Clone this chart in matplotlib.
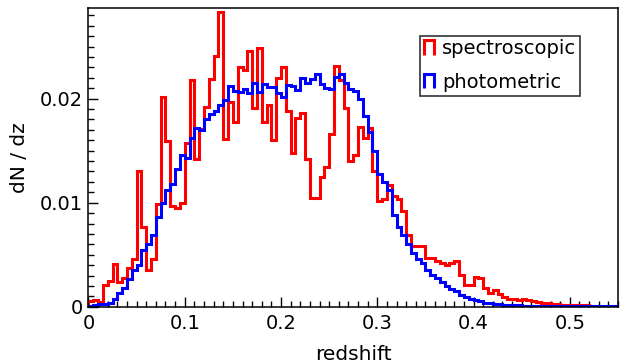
import numpy as np
import matplotlib
matplotlib.use("Agg")
import matplotlib.pyplot as plt
import matplotlib.patches as mpatches
from matplotlib.legend_handler import HandlerPatch
from matplotlib.ticker import MultipleLocator, FuncFormatter

# redshift bins: 0 .. 0.55 in steps of 0.005
BIN_WIDTH = 0.005
N_BINS = 110

spec = [
    0.0006, 0.0007, 0.0005, 0.0021, 0.0025, 0.0041, 0.0024, 0.0028, 0.0037, 0.0046,
    0.0130, 0.0077, 0.0035, 0.0046, 0.0099, 0.0202, 0.0159, 0.0097, 0.0095, 0.0100,
    0.0157, 0.0218, 0.0142, 0.0171, 0.0192, 0.0219, 0.0241, 0.0283, 0.0161, 0.0197,
    0.0178, 0.0230, 0.0227, 0.0246, 0.0191, 0.0249, 0.0178, 0.0194, 0.0160, 0.0220,
    0.0230, 0.0188, 0.0148, 0.0181, 0.0186, 0.0142, 0.0105, 0.0105, 0.0125, 0.0134,
    0.0166, 0.0231, 0.0218, 0.0191, 0.0140, 0.0146, 0.0173, 0.0162, 0.0172, 0.0130,
    0.0102, 0.0104, 0.0117, 0.0106, 0.0104, 0.0092, 0.0069, 0.0058, 0.0058, 0.0058,
    0.0047, 0.0047, 0.0044, 0.0042, 0.0040, 0.0042, 0.0044, 0.0031, 0.0021, 0.0021,
    0.0029, 0.0028, 0.0018, 0.0013, 0.0016, 0.0012, 0.0009, 0.0008, 0.0008, 0.0007,
    0.0008, 0.0007, 0.0006, 0.0005, 0.0004, 0.0004, 0.0003, 0.0003, 0.0002, 0.0002,
    0.0002, 0.0002, 0.0002, 0.0002, 0.0001, 0.0001, 0.0001, 0.0001, 0.0001, 0.0001,
]

phot = [
    0.0001, 0.0002, 0.0003, 0.0003, 0.0004, 0.0008, 0.0013, 0.0018, 0.0027, 0.0035,
    0.0040, 0.0055, 0.0060, 0.0069, 0.0086, 0.0100, 0.0112, 0.0118, 0.0132, 0.0146,
    0.0143, 0.0162, 0.0172, 0.0170, 0.0180, 0.0185, 0.0188, 0.0194, 0.0199, 0.0212,
    0.0207, 0.0206, 0.0209, 0.0205, 0.0215, 0.0206, 0.0214, 0.0211, 0.0211, 0.0205,
    0.0202, 0.0213, 0.0212, 0.0208, 0.0220, 0.0215, 0.0219, 0.0224, 0.0214, 0.0210,
    0.0209, 0.0221, 0.0224, 0.0215, 0.0209, 0.0207, 0.0200, 0.0183, 0.0168, 0.0150,
    0.0128, 0.0120, 0.0112, 0.0088, 0.0077, 0.0069, 0.0060, 0.0052, 0.0046, 0.0042,
    0.0035, 0.0031, 0.0028, 0.0024, 0.0020, 0.0017, 0.0015, 0.0011, 0.0009, 0.0008,
    0.0007, 0.0006, 0.0004, 0.0004, 0.0003, 0.0003, 0.0002, 0.0002, 0.0002, 0.0002,
    0.0001, 0.0001, 0.0001, 0.0001, 0.0001, 0.0001, 0.0001, 0.0001, 0.0001, 0.0001,
    0.0001, 0.00005, 0.00005, 0.00005, 0.00005, 0.00005, 0.00005, 0.00005, 0.00005, 0.00005,
]

labels = ["spectroscopic", "photometric"]
colors = ["#ff0000", "#0000ff"]

edges = np.arange(N_BINS + 1) * BIN_WIDTH
centers = edges[:-1] + BIN_WIDTH / 2


def open_box(legend, orig_handle, xdescent, ydescent, width, height, fontsize):
    # step-shaped legend key (no bottom edge)
    x0, y0 = -xdescent, -ydescent
    return mpatches.Polygon([[x0, y0], [x0, y0 + height], [x0 + width, y0 + height],
                             [x0 + width, y0]], closed=False, fill=False)


plt.rcParams["font.family"] = "DejaVu Sans"
fig = plt.figure(figsize=(6.2, 3.64), dpi=100)
ax = fig.add_axes([0.1427, 0.157, 0.854, 0.821])

for vals, lab, c in zip([spec, phot], labels, colors):
    ax.hist(centers, bins=edges, weights=vals, histtype="step", color=c, lw=2.2, label=lab)

ax.set_xlim(0, 0.55)
ax.set_ylim(0, 0.0287)
ax.xaxis.set_major_locator(MultipleLocator(0.1))
ax.xaxis.set_minor_locator(MultipleLocator(0.01))
ax.yaxis.set_major_locator(MultipleLocator(0.01))
ax.yaxis.set_minor_locator(MultipleLocator(0.001))
fmt = FuncFormatter(lambda v, p: "%g" % round(v, 6))
ax.xaxis.set_major_formatter(fmt)
ax.yaxis.set_major_formatter(fmt)
ax.tick_params(which="both", direction="in", top=False, right=False, labelsize=14)
ax.tick_params(which="major", length=7, width=1)
ax.tick_params(which="minor", length=4, width=1)
ax.tick_params(axis="x", pad=5)
ax.tick_params(axis="y", pad=4)
for s in ax.spines.values():
    s.set_linewidth(1.1)

ax.set_xlabel("redshift", fontsize=14.5, labelpad=9)
ax.set_ylabel("dN / dz", fontsize=14.5, labelpad=8)

leg = ax.legend(loc="upper right", bbox_to_anchor=(0.929, 0.908), fontsize=14,
                handlelength=0.5, handleheight=0.75, handletextpad=0.45,
                labelspacing=0.75, borderpad=0.2, borderaxespad=0.0,
                frameon=True, fancybox=False,
                handler_map={mpatches.Polygon: HandlerPatch(patch_func=open_box)})
leg.get_frame().set_edgecolor("black")
leg.get_frame().set_linewidth(1.2)

fig.savefig("out.png", dpi=100)
